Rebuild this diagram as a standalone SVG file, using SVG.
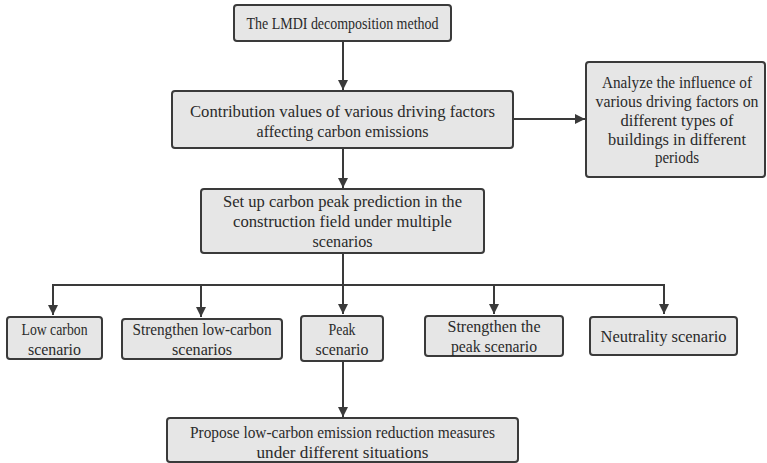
<svg xmlns="http://www.w3.org/2000/svg" width="767" height="463" viewBox="0 0 767 463">
<defs>
<style>
.box{fill:#e6e6e6;stroke:#3a3a3a;stroke-width:2}
.t{font-family:"Liberation Serif",serif;font-size:16px;fill:#2a2a2a;text-anchor:middle}
.c{fill:none;stroke:#3a3a3a;stroke-width:2}
</style>
<marker id="ah" viewBox="0 0 10 10" refX="10" refY="5" markerWidth="5" markerHeight="5" orient="auto" markerUnits="strokeWidth">
<path d="M0,0 L10,5 L0,10 z" fill="#3a3a3a"/>
</marker>
</defs>
<rect width="767" height="463" fill="#ffffff"/>
<g id="connectors">
<line class="c" x1="343" y1="41" x2="343" y2="90" marker-end="url(#ah)"/>
<line class="c" x1="513" y1="119" x2="585" y2="119" marker-end="url(#ah)"/>
<line class="c" x1="343" y1="148" x2="343" y2="188" marker-end="url(#ah)"/>
<line class="c" x1="343" y1="253" x2="343" y2="285"/>
<polyline class="c" points="53,314 53,285 664,285 664,314" marker-end="url(#ah)"/>
<line class="c" x1="53" y1="285" x2="53" y2="315" marker-end="url(#ah)"/>
<line class="c" x1="201" y1="285" x2="201" y2="317" marker-end="url(#ah)"/>
<line class="c" x1="343" y1="285" x2="343" y2="314" marker-end="url(#ah)"/>
<line class="c" x1="494" y1="285" x2="494" y2="314" marker-end="url(#ah)"/>
<line class="c" x1="343" y1="361" x2="343" y2="417" marker-end="url(#ah)"/>
</g>
<g id="n1">
<rect class="box" x="234" y="5" width="217" height="36" rx="3"/>
<text class="t" x="342.5" y="29" textLength="192" lengthAdjust="spacingAndGlyphs">The LMDI decomposition method</text>
</g>
<g id="n2">
<rect class="box" x="172" y="91" width="341" height="57" rx="3"/>
<text class="t" x="342.5" y="117" textLength="305" lengthAdjust="spacingAndGlyphs">Contribution values of various driving factors</text>
<text class="t" x="342.5" y="137" textLength="172" lengthAdjust="spacingAndGlyphs">affecting carbon emissions</text>
</g>
<g id="n3">
<rect class="box" x="586" y="62" width="179" height="115" rx="3"/>
<text class="t" x="677" y="88" textLength="150" lengthAdjust="spacingAndGlyphs">Analyze the influence of</text>
<text class="t" x="677" y="107" textLength="163" lengthAdjust="spacingAndGlyphs">various driving factors on</text>
<text class="t" x="677" y="126" textLength="113" lengthAdjust="spacingAndGlyphs">different types of</text>
<text class="t" x="677" y="145" textLength="138" lengthAdjust="spacingAndGlyphs">buildings in different</text>
<text class="t" x="677" y="163" textLength="44" lengthAdjust="spacingAndGlyphs">periods</text>
</g>
<g id="n4">
<rect class="box" x="201" y="189" width="283" height="64" rx="3"/>
<text class="t" x="342.5" y="207" textLength="239" lengthAdjust="spacingAndGlyphs">Set up carbon peak prediction in the</text>
<text class="t" x="342.5" y="227" textLength="219" lengthAdjust="spacingAndGlyphs">construction field under multiple</text>
<text class="t" x="342.5" y="247" textLength="60" lengthAdjust="spacingAndGlyphs">scenarios</text>
</g>
<g id="n5">
<rect class="box" x="7" y="317" width="95" height="42" rx="3"/>
<text class="t" x="54.5" y="335" textLength="66" lengthAdjust="spacingAndGlyphs">Low carbon</text>
<text class="t" x="54.5" y="355" textLength="53" lengthAdjust="spacingAndGlyphs">scenario</text>
</g>
<g id="n6">
<rect class="box" x="122" y="319" width="160" height="40" rx="3"/>
<text class="t" x="202" y="335" textLength="139" lengthAdjust="spacingAndGlyphs">Strengthen low-carbon</text>
<text class="t" x="202" y="355" textLength="60" lengthAdjust="spacingAndGlyphs">scenarios</text>
</g>
<g id="n7">
<rect class="box" x="301" y="316" width="82" height="45" rx="3"/>
<text class="t" x="342" y="335" textLength="27" lengthAdjust="spacingAndGlyphs">Peak</text>
<text class="t" x="342" y="355" textLength="53" lengthAdjust="spacingAndGlyphs">scenario</text>
</g>
<g id="n8">
<rect class="box" x="425" y="316" width="138" height="40" rx="3"/>
<text class="t" x="494" y="332" textLength="93" lengthAdjust="spacingAndGlyphs">Strengthen the</text>
<text class="t" x="494" y="352" textLength="86" lengthAdjust="spacingAndGlyphs">peak scenario</text>
</g>
<g id="n9">
<rect class="box" x="590" y="317" width="147" height="38" rx="3"/>
<text class="t" x="663.5" y="342" textLength="126" lengthAdjust="spacingAndGlyphs">Neutrality scenario</text>
</g>
<g id="n10">
<rect class="box" x="167" y="418" width="351" height="44" rx="3"/>
<text class="t" x="342.5" y="438" textLength="305" lengthAdjust="spacingAndGlyphs">Propose low-carbon emission reduction measures</text>
<text class="t" x="342.5" y="458" textLength="172" lengthAdjust="spacingAndGlyphs">under different situations</text>
</g>
</svg>
